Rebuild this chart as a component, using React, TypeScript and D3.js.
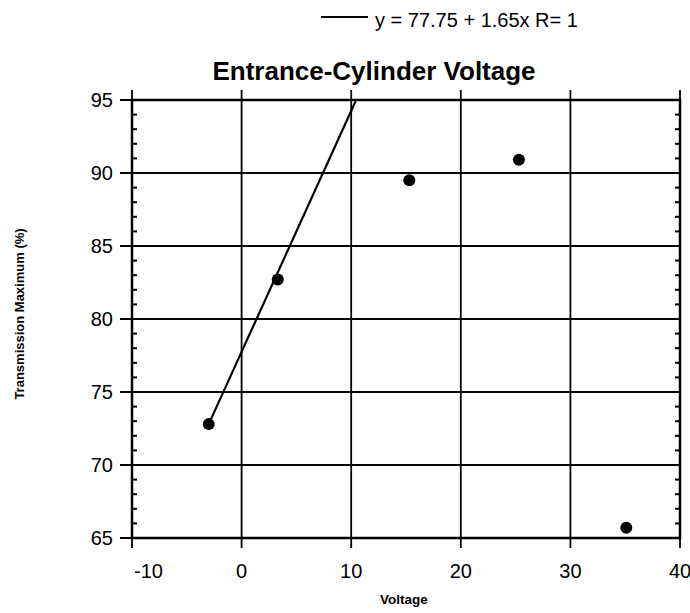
import React from "react";
import * as d3 from "d3";

const voltage = [-3, 3.3, 15.3, 25.3, 35.1];
const transmission = [72.8, 82.7, 89.5, 90.9, 65.7];
const fitIntercept = 77.75;
const fitSlope = 1.65;
const fitRange = [-3, 10.4];
const xTicks = [-10, 0, 10, 20, 30, 40];
const yTicks = [65, 70, 75, 80, 85, 90, 95];
const yMinor = d3.range(65, 96, 1);

const W = 690, H = 613;
const L = 132, R = 680, T = 100, B = 538;
const FONT = "'Liberation Sans', Arial, sans-serif";

export default function App() {
  const x = d3.scaleLinear().domain([-10, 40]).range([L, R]);
  const y = d3.scaleLinear().domain([65, 95]).range([B, T]);
  const fitY = (v: number) => fitIntercept + fitSlope * v;
  const line = d3.line<number>().x((d) => x(d)).y((d) => y(fitY(d)));

  return (
    <svg width={W} height={H} style={{ position: "absolute", left: 0, top: 0, background: "#fff" }}>
      {/* legend */}
      <line x1={321} x2={368} y1={17} y2={17} stroke="#000" strokeWidth={1.8} />
      <text x={375} y={27} fontFamily={FONT} fontSize={20}>y = 77.75 + 1.65x R= 1</text>
      {/* title */}
      <text x={374} y={80} textAnchor="middle" fontFamily={FONT} fontSize={26} fontWeight="bold">Entrance-Cylinder Voltage</text>

      {/* grid */}
      {yTicks.map((t) => (
        <line key={"gy" + t} x1={L - 12} x2={R} y1={y(t)} y2={y(t)} stroke="#000" strokeWidth={2} />
      ))}
      {xTicks.map((t) => (
        <line key={"gx" + t} x1={x(t)} x2={x(t)} y1={T - 10} y2={B + 10} stroke="#000" strokeWidth={1.8} />
      ))}
      {/* minor ticks */}
      {yMinor.filter((v) => v % 5 !== 0).map((v) => (
        <g key={"m" + v}>
          <line x1={L} x2={L + 5} y1={y(v)} y2={y(v)} stroke="#000" strokeWidth={2} />
          <line x1={R - 5} x2={R} y1={y(v)} y2={y(v)} stroke="#000" strokeWidth={2} />
        </g>
      ))}
      {/* frame */}
      <rect x={L} y={T} width={R - L} height={B - T} fill="none" stroke="#000" strokeWidth={2.5} />

      {/* fit line */}
      <path d={line(fitRange) || ""} fill="none" stroke="#000" strokeWidth={2.2} />
      {/* points */}
      {voltage.map((v, i) => (
        <circle key={"p" + i} cx={x(v)} cy={y(transmission[i])} r={6} fill="#000" />
      ))}

      {/* tick labels */}
      {yTicks.map((t) => (
        <text key={"yl" + t} x={113} y={y(t) + 7} textAnchor="end" fontFamily={FONT} fontSize={20}>{t}</text>
      ))}
      {xTicks.map((t, i) => (
        <text key={"xl" + t} x={i === 0 ? x(t) + 2 : x(t)} y={578} textAnchor={i === 0 ? "start" : "middle"} fontFamily={FONT} fontSize={20}>{t}</text>
      ))}
      {/* axis titles */}
      <text x={404} y={604} textAnchor="middle" fontFamily={FONT} fontSize={13.5} fontWeight="bold">Voltage</text>
      <text transform={`translate(24, 314) rotate(-90)`} textAnchor="middle" fontFamily={FONT} fontSize={13} fontWeight="bold">Transmission Maximum (%)</text>
    </svg>
  );
}
